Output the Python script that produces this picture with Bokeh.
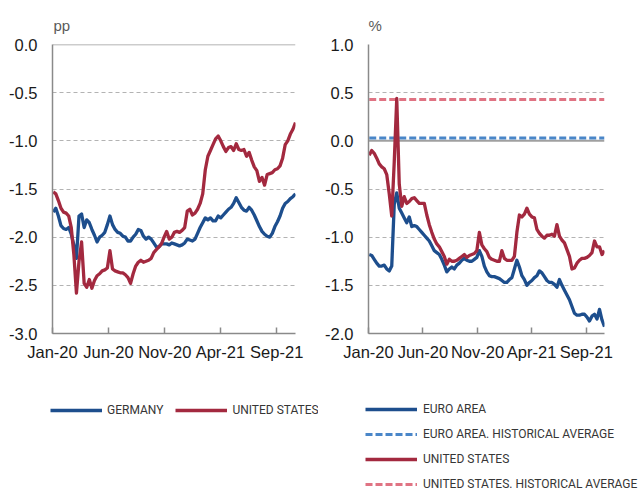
import pandas as pd
from bokeh.plotting import figure
from bokeh.layouts import row, column
from bokeh.models import (Range1d, FixedTicker, NumeralTickFormatter, Span, Legend,
                          LegendItem, DatetimeTickFormatter)
from bokeh.embed import file_html
from bokeh.resources import INLINE

# ---------------- data (weekly readings, Jan 2020 - Oct 2021) ----------------
dates = pd.date_range("2020-01-03", periods=95, freq="7D")

germany = [
    -1.74, -1.70, -1.78, -1.88, -1.91, -1.92, -1.90, -1.97, -2.08, -2.22,
    -1.78, -1.76, -1.90, -1.82, -1.85, -1.92, -1.98, -2.05, -2.00, -1.98,
    -1.95, -1.87, -1.78, -1.87, -1.92, -1.95, -1.96, -1.99, -2.00, -2.04,
    -2.04, -2.00, -1.97, -1.92, -1.93, -1.99, -2.02, -2.00, -2.02, -2.06,
    -2.10, -2.10, -2.07, -2.07, -2.07, -2.08, -2.06, -2.07, -2.08, -2.09,
    -2.08, -2.06, -2.02, -2.03, -2.04, -2.02, -1.96, -1.90, -1.85, -1.80,
    -1.82, -1.80, -1.83, -1.83, -1.78, -1.80, -1.77, -1.74, -1.71, -1.69,
    -1.65, -1.59, -1.64, -1.69, -1.72, -1.73, -1.69, -1.72, -1.77, -1.83,
    -1.89, -1.94, -1.97, -1.99, -2.00, -1.96, -1.89, -1.84, -1.78, -1.70,
    -1.65, -1.63, -1.60, -1.58, -1.55,
]
us_spread = [
    -1.53, -1.55, -1.62, -1.70, -1.74, -1.75, -1.78, -1.90, -2.18, -2.58,
    -2.25, -2.05, -2.48, -2.52, -2.44, -2.53, -2.45, -2.40, -2.38, -2.35,
    -2.34, -2.32, -2.14, -2.33, -2.35, -2.36, -2.37, -2.37, -2.39, -2.42,
    -2.48, -2.38, -2.30, -2.26, -2.24, -2.26, -2.25, -2.24, -2.22, -2.16,
    -2.13, -2.10, -2.07, -2.00, -1.94, -2.02, -2.00, -1.95, -1.94, -1.95,
    -1.93, -1.90, -1.73, -1.71, -1.77, -1.75, -1.71, -1.65, -1.55, -1.30,
    -1.16, -1.10, -1.04, -0.98, -0.95, -1.00, -1.06, -1.11, -1.07, -1.06,
    -1.10, -1.03, -1.09, -1.10, -1.09, -1.16, -1.12, -1.20, -1.27, -1.31,
    -1.42, -1.38, -1.46, -1.35, -1.34, -1.33, -1.30, -1.29, -1.26, -1.18,
    -1.04, -1.00, -0.93, -0.88, -0.81,
]
euro_area = [
    -1.18, -1.19, -1.23, -1.27, -1.30, -1.30, -1.29, -1.33, -1.35, -1.30,
    -0.66, -0.54, -0.70, -0.75, -0.80, -0.85, -0.79, -0.89, -0.88, -0.89,
    -0.92, -0.95, -0.98, -1.01, -1.04, -1.09, -1.14, -1.16, -1.18, -1.23,
    -1.29, -1.36, -1.33, -1.31, -1.33, -1.29, -1.27, -1.24, -1.22, -1.24,
    -1.25, -1.25, -1.23, -1.21, -1.14, -1.20, -1.30, -1.36, -1.40, -1.41,
    -1.41, -1.42, -1.43, -1.45, -1.47, -1.47, -1.44, -1.42, -1.33, -1.24,
    -1.31, -1.40, -1.44, -1.50, -1.47, -1.45, -1.42, -1.40, -1.35, -1.37,
    -1.41, -1.45, -1.47, -1.47, -1.49, -1.52, -1.44, -1.50, -1.55, -1.60,
    -1.65, -1.72, -1.79, -1.81, -1.81, -1.80, -1.80, -1.83, -1.87, -1.82,
    -1.80, -1.85, -1.75, -1.86, -1.93,
]
us_yield = [
    -0.15, -0.10, -0.13, -0.18, -0.24, -0.27, -0.29, -0.35, -0.55, -0.78,
    -0.22, 0.44, -0.45, -0.68, -0.58, -0.65, -0.63, -0.60, -0.59, -0.62,
    -0.65, -0.65, -0.65, -0.77, -0.87, -0.95, -1.02, -1.07, -1.10, -1.15,
    -1.20, -1.28, -1.23, -1.25, -1.25, -1.24, -1.22, -1.20, -1.18, -1.21,
    -1.19, -1.18, -1.17, -1.14, -0.95, -1.08, -1.12, -1.15, -1.21, -1.23,
    -1.24, -1.25, -1.25, -1.14, -1.22, -1.24, -1.24, -1.24, -1.20, -0.95,
    -0.77, -0.79, -0.76, -0.70, -0.76, -0.79, -0.80, -0.92, -0.96, -0.99,
    -1.01, -0.98, -0.98, -0.97, -0.99, -0.87, -0.99, -1.03, -1.06, -1.13,
    -1.20, -1.33, -1.32, -1.27, -1.24, -1.22, -1.22, -1.21, -1.19, -1.16,
    -1.04, -1.10, -1.10, -1.18, -1.14,
]
euro_hist_avg = 0.03
us_hist_avg = 0.43

tick_dates = ["2020-01-01", "2020-06-01", "2020-11-01", "2021-04-01", "2021-09-01"]
tick_labels = ["Jan-20", "Jun-20", "Nov-20", "Apr-21", "Sep-21"]

left_yticks = [-3.0, -2.5, -2.0, -1.5, -1.0, -0.5, 0.0]
right_yticks = [-2.0, -1.5, -1.0, -0.5, 0.0, 0.5, 1.0]

# ---------------- styling ----------------
BLUE = "#1d4e8d"
RED = "#a3293f"
LIGHT_BLUE = "#4a86c8"
PINK = "#e07383"
AXIS_GREY = "#8a8a8a"
TICK_FONT = "Liberation Sans"
LEG_FONT = "Roboto"
TOP_H = 390
LEG_H = 102

def ms(d):
    return pd.Timestamp(d).value // 10**6

tick_ms = [ms(d) for d in tick_dates]
x_start = ms("2020-01-01")
x_end = ms(dates[-1])

def make_fig(width, b_left, b_right, y0, y1, yticks, unit, title_offset):
    p = figure(width=width, height=TOP_H, x_axis_type="datetime",
               x_range=Range1d(x_start, x_end), y_range=Range1d(y0, y1),
               output_backend="svg", toolbar_location=None,
               min_border_left=b_left, min_border_right=b_right,
               min_border_top=44, min_border_bottom=TOP_H - 44 - 289, title=unit)
    p.outline_line_color = None
    p.background_fill_color = "white"
    p.border_fill_color = "white"
    p.title.align = "left"
    p.title.offset = title_offset
    p.title.text_font = TICK_FONT
    p.title.text_font_size = "15px"
    p.title.text_font_style = "normal"
    p.title.text_color = "#5a5a5a"
    p.title.standoff = 21

    p.xgrid.visible = False
    p.ygrid.grid_line_color = "#b3b3b3"
    p.ygrid.grid_line_dash = "4 3"
    p.ygrid.grid_line_width = 1
    p.yaxis.ticker = FixedTicker(ticks=yticks)
    p.ygrid.ticker = FixedTicker(ticks=yticks)
    p.yaxis.formatter = NumeralTickFormatter(format="0.0")

    p.xaxis.ticker = FixedTicker(ticks=tick_ms)
    p.xaxis.formatter = DatetimeTickFormatter(years="%b-%y", months="%b-%y", days="%b-%y")
    p.xaxis.major_label_overrides = {t: lab for t, lab in zip(tick_ms, tick_labels)}

    for ax in (p.xaxis, p.yaxis):
        ax.axis_line_color = AXIS_GREY
        ax.axis_line_width = 1.5
        ax.major_tick_line_color = AXIS_GREY
        ax.major_tick_line_width = 1.5
        ax.minor_tick_line_color = None
        ax.major_label_text_font = TICK_FONT
        ax.major_label_text_font_size = "16.5px"
        ax.major_label_text_color = "#1a1a1a"
    p.xaxis.major_tick_in = 6
    p.xaxis.major_tick_out = 0
    p.xaxis.major_label_standoff = 9
    p.yaxis.major_tick_in = 0
    p.yaxis.major_tick_out = 0
    p.yaxis.major_label_standoff = 15
    return p

def make_legend_fig(width):
    # strip below a chart that only carries its legend; its own lines sit outside its view
    q = figure(width=width, height=LEG_H, x_axis_type="datetime",
               x_range=Range1d(x_start, x_end), y_range=Range1d(10, 11),
               output_backend="svg", toolbar_location=None,
               x_axis_location=None, y_axis_location=None, min_border=0)
    q.outline_line_color = None
    q.grid.visible = False
    q.border_fill_color = "white"
    q.background_fill_color = "white"
    return q

def style_legend(leg, size):
    leg.padding = 0
    leg.margin = 0
    leg.border_line_color = None
    leg.background_fill_alpha = 0
    leg.glyph_width = 52
    leg.glyph_height = 16
    leg.label_height = 16
    leg.label_standoff = 5
    leg.label_text_font = LEG_FONT
    leg.label_text_font_size = size
    leg.label_text_color = "#363636"

# ---------------- left chart: spreads (pp) ----------------
p1 = make_fig(318, 52, 23, -3.0, 0.0, left_yticks, "pp", 1)
p1.add_layout(Span(location=0, dimension="width", line_color="#9a9a9a",
                   line_width=1.5, level="underlay"))
p1.line(dates, germany, line_color=BLUE, line_width=3.3, line_join="round")
p1.line(dates, us_spread, line_color=RED, line_width=3.3, line_join="round")

q1 = make_legend_fig(318)
l_de = q1.line(dates, germany, line_color=BLUE, line_width=3.3)
l_us = q1.line(dates, us_spread, line_color=RED, line_width=3.3)
leg1 = Legend(items=[LegendItem(label="GERMANY", renderers=[l_de]),
                     LegendItem(label="UNITED STATES", renderers=[l_us])],
              orientation="horizontal", location=(50, 74))
style_legend(leg1, "12px")
leg1.spacing = 12
q1.add_layout(leg1)

# ---------------- right chart: yields (%) ----------------
p2 = make_fig(322, 50, 36, -2.0, 1.0, right_yticks, "%", 0)
p2.add_layout(Span(location=0, dimension="width", line_color="#a0a0a0",
                   line_width=2, level="underlay"))
p2.line(dates, [euro_hist_avg] * len(dates), line_color=LIGHT_BLUE,
        line_width=3, line_dash="7 3")
p2.line(dates, [us_hist_avg] * len(dates), line_color=PINK,
        line_width=3, line_dash="7 3")
p2.line(dates, euro_area, line_color=BLUE, line_width=3.3, line_join="round")
p2.line(dates, us_yield, line_color=RED, line_width=3.3, line_join="round")

q2 = make_legend_fig(322)
l_ea = q2.line(dates, euro_area, line_color=BLUE, line_width=3.3)
l_ea_avg = q2.line(dates, [euro_hist_avg] * len(dates), line_color=LIGHT_BLUE,
                   line_width=3, line_dash="7 3")
l_usy = q2.line(dates, us_yield, line_color=RED, line_width=3.3)
l_us_avg = q2.line(dates, [us_hist_avg] * len(dates), line_color=PINK,
                   line_width=3, line_dash="7 3")
leg2 = Legend(items=[LegendItem(label="EURO AREA", renderers=[l_ea]),
                     LegendItem(label="EURO AREA. HISTORICAL AVERAGE", renderers=[l_ea_avg]),
                     LegendItem(label="UNITED STATES", renderers=[l_usy]),
                     LegendItem(label="UNITED STATES. HISTORICAL AVERAGE", renderers=[l_us_avg])],
              orientation="vertical", location=(47, 0))
style_legend(leg2, "12px")
leg2.spacing = 9
leg2.label_standoff = 6
q2.add_layout(leg2)

layout = column(row(p1, p2), row(q1, q2))
open("out.html", "w").write(file_html(layout, INLINE))
